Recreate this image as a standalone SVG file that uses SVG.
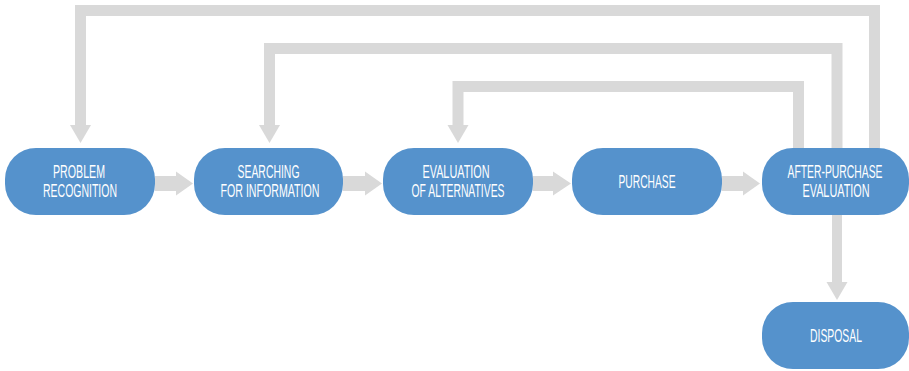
<svg xmlns="http://www.w3.org/2000/svg" width="909" height="371" viewBox="0 0 909 371">
<style>
.node rect{fill:#5592cc;}
.node text{fill:#ffffff;font-family:"Liberation Sans",Arial,sans-serif;font-size:19px;text-anchor:middle;}
.loop{fill:none;stroke:#d9d9d9;stroke-width:11;stroke-linejoin:miter;stroke-linecap:butt;}
.head{fill:#d9d9d9;}
</style>
<rect width="909" height="371" fill="#ffffff"/>
<g id="connectors">
  <path class="loop" d="M874.5,149 V10.5 H80.5 V126"/>
  <polygon class="head" points="70,125 91,125 80.5,143"/>
  <path class="loop" d="M837,149 V48.5 H269.5 V126"/>
  <polygon class="head" points="259,125 280,125 269.5,143"/>
  <path class="loop" d="M798.5,149 V86.5 H458 V126"/>
  <polygon class="head" points="447.5,125 468.5,125 458,143"/>
  <path class="loop" d="M837,214 V283" style="stroke-width:10"/>
  <polygon class="head" points="826.5,282 847.5,282 837,300"/>
  <polygon class="head" points="155,176 176,176 176,171.5 193,183.5 176,195.5 176,191 155,191"/>
  <polygon class="head" points="343,176 365,176 365,171.5 382,183.5 365,195.5 365,191 343,191"/>
  <polygon class="head" points="533,176 553,176 553,171.5 571,183.5 553,195.5 553,191 533,191"/>
  <polygon class="head" points="722,176 743,176 743,171.5 760,183.5 743,195.5 743,191 722,191"/>
</g>
<g id="node-problem" class="node">
  <rect x="5" y="148" width="150" height="67" rx="31"/>
  <text x="79" y="178" textLength="52" lengthAdjust="spacingAndGlyphs">PROBLEM</text>
  <text x="80" y="197" textLength="74" lengthAdjust="spacingAndGlyphs">RECOGNITION</text>
</g>
<g id="node-searching" class="node">
  <rect x="194" y="148" width="149" height="67" rx="31"/>
  <text x="268.5" y="178" textLength="62" lengthAdjust="spacingAndGlyphs">SEARCHING</text>
  <text x="270" y="197" textLength="99" lengthAdjust="spacingAndGlyphs">FOR INFORMATION</text>
</g>
<g id="node-evaluation" class="node">
  <rect x="383" y="148" width="150" height="67" rx="31"/>
  <text x="456" y="178" textLength="67" lengthAdjust="spacingAndGlyphs">EVALUATION</text>
  <text x="458" y="197" textLength="93" lengthAdjust="spacingAndGlyphs">OF ALTERNATIVES</text>
</g>
<g id="node-purchase" class="node">
  <rect x="572" y="148" width="150" height="67" rx="31"/>
  <text x="647" y="188" textLength="57" lengthAdjust="spacingAndGlyphs">PURCHASE</text>
</g>
<g id="node-after-purchase" class="node">
  <rect x="762" y="148" width="147" height="67" rx="31"/>
  <text x="835" y="178" textLength="95" lengthAdjust="spacingAndGlyphs">AFTER-PURCHASE</text>
  <text x="836" y="197" textLength="67" lengthAdjust="spacingAndGlyphs">EVALUATION</text>
</g>
<g id="node-disposal" class="node">
  <rect x="762" y="302" width="147" height="67" rx="31"/>
  <text x="836" y="342" textLength="52" lengthAdjust="spacingAndGlyphs">DISPOSAL</text>
</g>
</svg>
